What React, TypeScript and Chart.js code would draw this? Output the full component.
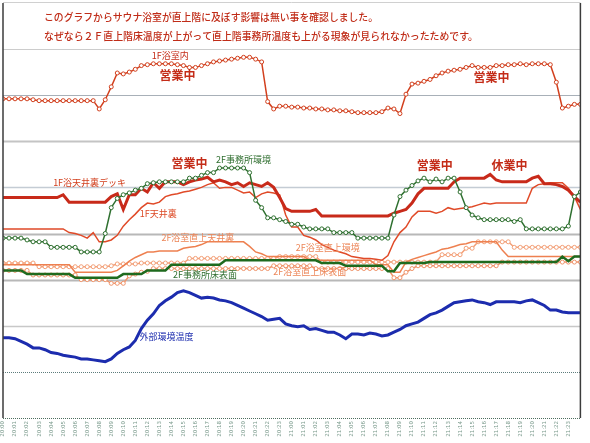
import React, { useEffect, useRef } from 'react';
import { Chart, registerables } from 'chart.js';

Chart.register(...registerables);

// Hourly tick labels (day:hour)
const tickLabels = [
  '20:00', '20:01', '20:02', '20:03', '20:04', '20:05', '20:06', '20:07', '20:08', '20:09', '20:10', '20:11',
  '20:12', '20:13', '20:14', '20:15', '20:16', '20:17', '20:18', '20:19', '20:20', '20:21', '20:22', '20:23',
  '21:00', '21:01', '21:02', '21:03', '21:04', '21:05', '21:06', '21:07', '21:08', '21:09', '21:10', '21:11',
  '21:12', '21:13', '21:14', '21:15', '21:16', '21:17', '21:18', '21:19', '21:20', '21:21', '21:22', '21:23',
];

// Half-hourly readings (°C-like units), 97 samples each
const bathRoom1F = [
  34.6, 34.6, 34.6, 34.6, 34.6, 34.5, 34.4, 34.4, 34.4, 34.4,
  34.4, 34.4, 34.4, 34.4, 34.4, 34.4, 33.5, 34.5, 35.9, 37.4,
  37.3, 37.5, 37.8, 38.2, 38.3, 38.4, 38.4, 38.4, 38.4, 38.3,
  38.2, 38.0, 38.0, 38.2, 38.4, 38.6, 38.7, 38.8, 38.9, 39.0,
  39.1, 39.1, 38.9, 38.6, 34.3, 33.5, 33.8, 33.8, 33.7, 33.7,
  33.6, 33.6, 33.5, 33.5, 33.4, 33.4, 33.3, 33.3, 33.2, 33.1,
  33.1, 33.1, 33.1, 33.2, 33.6, 33.5, 33.0, 35.1, 36.2, 36.3,
  36.5, 36.7, 37.1, 37.4, 37.6, 37.7, 37.8, 38.0, 38.2, 38.0,
  38.0, 38.0, 38.2, 38.2, 38.3, 38.3, 38.4, 38.3, 38.4, 38.4,
  38.4, 38.3, 36.4, 33.6, 33.8, 34.0, 34.0,
];

const bathDeck1F = [
  23.9, 23.9, 23.9, 23.9, 23.9, 23.9, 23.9, 23.9, 23.9, 23.9,
  24.2, 23.4, 23.4, 23.4, 23.4, 23.4, 23.4, 23.4, 24.0, 24.3,
  22.6, 24.2, 24.2, 24.9, 24.5, 25.5, 24.9, 25.6, 25.6, 25.6,
  25.3, 25.6, 25.8, 25.9, 26.1, 25.6, 25.8, 25.6, 25.3, 25.5,
  25.1, 25.5, 25.3, 25.1, 25.5, 25.0, 23.9, 22.7, 22.4, 22.4,
  22.4, 22.4, 22.6, 21.9, 21.9, 21.9, 21.9, 21.9, 21.9, 21.9,
  21.9, 21.9, 21.9, 21.9, 21.9, 22.2, 22.4, 22.6, 23.3, 24.3,
  24.9, 24.9, 24.9, 24.9, 24.9, 25.6, 26.0, 26.0, 26.0, 26.0,
  26.0, 26.4, 25.8, 25.6, 25.6, 25.6, 25.6, 25.6, 26.0, 26.2,
  25.4, 25.4, 25.3, 25.1, 24.7, 24.0, 23.4,
];

const officeEnv2F = [
  19.5, 19.5, 19.5, 19.5, 19.3, 19.1, 19.1, 19.1, 18.5, 18.5,
  18.5, 18.5, 18.5, 18.0, 18.0, 18.0, 18.0, 20.0, 22.8, 23.8,
  24.2, 24.4, 24.7, 24.9, 25.4, 25.5, 25.6, 25.6, 25.6, 25.6,
  25.6, 26.0, 26.0, 26.3, 26.6, 26.6, 27.1, 27.1, 27.1, 27.1,
  27.1, 26.6, 23.6, 22.8, 21.7, 21.7, 21.5, 21.3, 21.0, 21.0,
  20.7, 20.5, 20.5, 20.5, 20.5, 20.1, 20.1, 20.1, 20.1, 19.5,
  19.5, 19.5, 19.5, 19.5, 19.5, 22.0, 24.0, 24.7, 25.2, 25.7,
  26.0, 25.6, 25.9, 25.6, 26.0, 26.0, 24.5, 22.8, 22.0, 21.7,
  21.5, 21.5, 21.5, 21.5, 21.5, 21.3, 21.5, 20.5, 20.5, 20.5,
  20.5, 20.5, 20.5, 20.5, 20.8, 24.0, 24.5,
];

const ceiling1F = [
  20.5, 20.5, 20.5, 20.5, 20.5, 20.5, 20.5, 20.5, 20.5, 20.5,
  20.5, 20.1, 20.0, 19.8, 19.5, 20.1, 19.1, 19.1, 19.3, 19.8,
  20.8, 21.5, 22.1, 22.8, 23.3, 23.2, 23.4, 24.0, 24.2, 24.3,
  24.5, 24.6, 24.8, 25.0, 25.3, 25.5, 24.9, 25.0, 25.0, 24.7,
  24.4, 24.5, 23.9, 24.3, 24.5, 24.4, 24.2, 22.0, 20.7, 20.7,
  19.8, 19.6, 19.3, 18.8, 18.5, 18.2, 18.0, 17.8, 17.5, 17.4,
  17.3, 17.3, 17.2, 17.1, 17.6, 19.1, 20.1, 20.7, 21.8, 22.4,
  22.4, 22.4, 22.2, 22.4, 22.8, 22.6, 22.7, 22.8, 22.9, 23.1,
  23.3, 23.2, 23.3, 23.3, 23.3, 23.3, 23.3, 23.3, 24.9, 25.3,
  25.4, 25.5, 25.5, 25.5, 24.9, 24.0, 22.6,
];

const bathAboveCeiling2F = [
  16.6, 16.6, 16.6, 16.6, 16.6, 16.6, 16.6, 16.6, 16.6, 16.6,
  16.6, 16.6, 15.8, 15.8, 15.8, 15.8, 15.8, 15.8, 15.8, 16.0,
  16.5, 17.0, 17.4, 17.7, 18.0, 18.0, 18.1, 18.1, 18.1, 18.1,
  18.4, 18.5, 18.6, 18.8, 19.1, 19.1, 19.1, 19.1, 19.1, 19.1,
  19.1, 18.6, 18.0, 17.8, 17.5, 17.5, 17.5, 17.5, 17.5, 17.5,
  17.5, 17.1, 17.1, 17.1, 17.1, 17.1, 17.1, 17.1, 17.1, 17.1,
  17.1, 17.1, 16.6, 16.6, 16.6, 15.8, 15.8, 16.9, 17.2, 17.4,
  17.6, 17.8, 18.0, 18.3, 18.4, 18.6, 18.8, 18.9, 19.1, 19.1,
  19.1, 19.1, 19.1, 18.2, 17.5, 17.5, 17.5, 17.5, 17.5, 17.5,
  17.5, 17.5, 17.5, 17.5, 17.5, 17.5, 17.5,
];

const bathAboveEnv2F = [
  16.8, 16.8, 16.8, 16.8, 16.8, 16.8, 16.4, 16.4, 16.4, 16.4,
  16.4, 16.4, 16.4, 16.4, 16.4, 16.4, 16.4, 16.4, 16.5, 16.7,
  16.7, 16.7, 16.7, 16.8, 16.8, 16.8, 16.8, 16.8, 16.8, 16.8,
  16.8, 17.3, 17.3, 17.3, 17.3, 17.3, 17.3, 17.3, 17.3, 17.3,
  17.3, 17.3, 17.3, 17.3, 17.3, 17.3, 17.5, 17.5, 17.5, 17.5,
  17.5, 17.5, 17.5, 16.9, 16.9, 16.9, 16.9, 16.9, 16.9, 16.9,
  16.9, 16.9, 16.9, 16.9, 16.9, 16.9, 16.9, 16.9, 16.9, 16.9,
  16.9, 16.9, 16.9, 17.7, 17.7, 17.7, 17.7, 18.4, 18.4, 19.1,
  19.1, 19.1, 19.1, 19.1, 19.1, 18.5, 18.5, 18.5, 18.5, 18.5,
  18.5, 18.5, 18.5, 18.5, 18.5, 18.5, 18.5,
];

const bathAboveFloor2F = [
  16.0, 16.0, 16.0, 16.0, 16.0, 15.5, 15.5, 15.5, 15.5, 15.5,
  15.5, 15.5, 15.5, 15.0, 15.0, 15.0, 15.0, 15.0, 14.6, 14.6,
  14.6, 15.4, 15.6, 15.8, 15.9, 16.2, 16.2, 16.2, 16.2, 16.2,
  16.2, 16.2, 16.2, 16.2, 16.2, 16.2, 16.2, 16.2, 16.2, 16.2,
  16.2, 16.2, 16.2, 16.2, 16.2, 16.5, 16.5, 16.5, 16.5, 16.5,
  16.5, 16.5, 16.2, 16.2, 16.2, 16.2, 16.2, 16.2, 16.2, 16.2,
  16.2, 16.2, 16.2, 16.2, 16.2, 15.2, 15.2, 15.8, 16.2, 16.5,
  16.5, 16.5, 16.5, 16.5, 16.5, 16.5, 16.5, 16.5, 16.5, 16.5,
  16.5, 16.5, 16.5, 16.9, 16.9, 16.9, 16.9, 16.9, 16.9, 16.9,
  16.9, 16.9, 16.9, 16.9, 16.9, 16.9, 16.9,
];

const officeFloor2F = [
  16.0, 16.0, 16.0, 16.0, 15.6, 15.6, 15.6, 15.6, 15.6, 15.6,
  15.6, 15.6, 15.2, 15.2, 15.2, 15.2, 15.2, 15.2, 15.2, 15.2,
  15.6, 15.6, 15.6, 15.6, 16.0, 16.0, 16.0, 16.0, 16.6, 16.6,
  16.6, 16.6, 16.6, 16.6, 16.6, 16.6, 16.6, 17.1, 17.1, 17.1,
  17.1, 17.1, 17.1, 17.1, 17.1, 17.1, 17.1, 17.1, 17.1, 17.1,
  17.1, 17.1, 17.1, 16.8, 16.8, 16.8, 16.8, 16.5, 16.5, 16.5,
  16.5, 16.5, 16.5, 16.5, 15.9, 15.9, 16.8, 16.8, 16.8, 16.8,
  16.8, 16.9, 16.9, 16.9, 16.9, 16.9, 16.9, 16.9, 16.9, 16.9,
  16.9, 16.9, 16.9, 16.9, 16.9, 16.9, 16.9, 16.9, 16.9, 16.9,
  16.9, 16.9, 16.9, 17.5, 17.0, 17.5, 17.5,
];

const outdoor = [
  8.7, 8.7, 8.6, 8.3, 8.0, 7.6, 7.6, 7.4, 7.1, 7.0,
  6.8, 6.7, 6.6, 6.4, 6.4, 6.3, 6.2, 6.1, 6.4, 7.0,
  7.4, 7.7, 8.4, 9.7, 10.6, 11.3, 12.2, 12.7, 13.1, 13.6,
  13.8, 13.6, 13.3, 13.0, 13.1, 13.0, 12.8, 12.7, 12.5, 12.2,
  11.9, 11.6, 11.3, 11.0, 10.6, 10.7, 10.8, 10.2, 10.0, 9.9,
  10.0, 9.6, 9.7, 9.5, 9.3, 9.3, 9.0, 8.6, 9.1, 9.1,
  9.0, 9.2, 9.1, 8.9, 9.0, 9.3, 9.6, 10.0, 10.2, 10.4,
  10.8, 11.2, 11.4, 11.7, 12.1, 12.5, 12.6, 12.7, 12.8, 12.6,
  12.5, 12.3, 12.6, 12.6, 12.6, 12.6, 12.5, 12.7, 12.8, 12.5,
  12.2, 11.7, 11.7, 11.5, 11.4, 11.4, 11.4,
];

const titleLines = [
  'このグラフからサウナ浴室が直上階に及ぼす影響は無い事を確認しました。',
  'なぜなら２Ｆ直上階床温度が上がって直上階事務所温度も上がる現象が見られなかったためです。',
];

const RED = '#c42c18';
const GREEN = '#2f6e2f';
const ORANGE = '#ec8658';
const BLUE = '#1c2cae';

// Annotation labels: [text, hour, value, colour, kind]
const annotations: [string, number, number, string, string][] = [
  ['1F浴室内', 13.9, 39.3, RED, 'label'],
  ['営業中', 14.5, 37.1, RED, 'big'],
  ['営業中', 40.6, 36.9, RED, 'big'],
  ['営業中', 15.5, 27.6, RED, 'big'],
  ['2F事務所環境', 20.0, 28.0, GREEN, 'label'],
  ['1F浴天井裏デッキ', 7.2, 25.5, '#d2401e', 'label'],
  ['1F天井裏', 12.9, 22.2, '#dc4a26', 'label'],
  ['2F浴室直上天井裏', 16.2, 19.6, ORANGE, 'label'],
  ['2F浴室直上環境', 27.0, 18.5, ORANGE, 'label'],
  ['2F浴室直上床表面', 25.5, 15.9, ORANGE, 'label'],
  ['2F事務所床表面', 16.8, 15.5, GREEN, 'label'],
  ['営業中', 35.9, 27.4, RED, 'big'],
  ['休業中', 42.1, 27.4, RED, 'big'],
  ['外部環境温度', 13.6, 8.8, BLUE, 'label'],
];

const gridValues = [0, 5, 10, 15, 20, 25, 30, 35, 40];
const gridStyles: Record<number, { color: string; width: number; dash: number[] }> = {
  0: { color: '#4d6e5e', width: 1, dash: [1, 1] },
  5: { color: '#5d7c7c', width: 1, dash: [1, 1] },
  10: { color: '#c8c8c8', width: 1.5, dash: [] },
  15: { color: '#b8b8b8', width: 2, dash: [] },
  20: { color: '#b8b8b8', width: 2, dash: [] },
  25: { color: '#c4ccd4', width: 1.5, dash: [] },
  30: { color: '#c4c4c4', width: 2, dash: [] },
  35: { color: '#a8b0b8', width: 1.2, dash: [] },
  40: { color: '#cccccc', width: 1, dash: [] },
};

const toPoints = (vals: number[]) => vals.map((v, i) => ({ x: i / 2, y: v }));

const JP = '"Noto Sans CJK JP", "Noto Sans", sans-serif';

const decorPlugin = {
  id: 'decor',
  beforeDraw(chart: any) {
    const { ctx, width, height } = chart;
    ctx.save();
    ctx.fillStyle = '#ffffff';
    ctx.fillRect(0, 0, width, height);
    ctx.restore();
  },
  beforeDatasetsDraw(chart: any) {
    const { ctx, chartArea, scales } = chart;
    ctx.save();
    for (const v of gridValues) {
      const s = gridStyles[v];
      const y = Math.round(scales.y.getPixelForValue(v)) + 0.5;
      ctx.beginPath();
      ctx.strokeStyle = s.color;
      ctx.lineWidth = s.width;
      ctx.setLineDash(s.dash);
      ctx.moveTo(chartArea.left, y);
      ctx.lineTo(chartArea.right, y);
      ctx.stroke();
    }
    ctx.restore();
  },
  afterDatasetsDraw(chart: any) {
    const { ctx, chartArea, scales } = chart;
    ctx.save();
    // frame
    ctx.strokeStyle = '#3c3c3c';
    ctx.lineWidth = 1.5;
    ctx.beginPath();
    ctx.moveTo(chartArea.left, 3);
    ctx.lineTo(chartArea.left, chartArea.bottom);
    ctx.moveTo(chartArea.right, 3);
    ctx.lineTo(chartArea.right, chartArea.bottom);
    ctx.stroke();
    ctx.strokeStyle = '#d0d0d0';
    ctx.lineWidth = 1;
    ctx.beginPath();
    ctx.moveTo(chartArea.left, 2.5);
    ctx.lineTo(chartArea.right, 2.5);
    ctx.stroke();

    // title
    ctx.fillStyle = '#c02c18';
    ctx.font = `500 10px ${JP}`;
    ctx.textBaseline = 'middle';
    ctx.textAlign = 'left';
    ctx.fillText(titleLines[0], 44, 17, 334);
    ctx.fillText(titleLines[1], 44, 36, 434);

    // annotations
    ctx.textAlign = 'center';
    for (const [text, h, v, color, kind] of annotations) {
      const x = scales.x.getPixelForValue(h);
      const y = scales.y.getPixelForValue(v);
      ctx.fillStyle = color;
      ctx.font = kind === 'big' ? `bold 12px ${JP}` : `9px ${JP}`;
      ctx.fillText(text, x, y);
    }
    ctx.restore();
  },
};

export default function App() {
  const ref = useRef<HTMLCanvasElement | null>(null);
  useEffect(() => {
    if (!ref.current) return;
    const marker = (color: string) => ({
      pointRadius: 2,
      pointBackgroundColor: '#ffffff',
      pointBorderColor: color,
      pointBorderWidth: 1,
      pointHoverRadius: 0,
    });
    const line = (label: string, vals: number[], color: string, width: number, markers: boolean) => ({
      label,
      data: toPoints(vals),
      borderColor: color,
      borderWidth: width,
      tension: 0,
      fill: false,
      ...(markers ? marker(color) : { pointRadius: 0, pointHoverRadius: 0 }),
    });
    const chart = new Chart(ref.current, {
      type: 'line',
      data: {
        datasets: [
          line('1F浴室内', bathRoom1F, '#d2401e', 1.5, true),
          line('2F事務所環境', officeEnv2F, '#2f7030', 1.5, true),
          line('1F浴天井裏デッキ', bathDeck1F, '#c82a1a', 3, false),
          line('1F天井裏', ceiling1F, '#e04a28', 1.5, false),
          line('2F事務所床表面', officeFloor2F, '#1e6a1e', 2.5, false),
          line('2F浴室直上天井裏', bathAboveCeiling2F, '#ee8050', 1.5, false),
          line('2F浴室直上環境', bathAboveEnv2F, '#f3a078', 1.5, true),
          line('2F浴室直上床表面', bathAboveFloor2F, '#f0946a', 1.5, true),
          line('外部環境温度', outdoor, '#1c2cae', 3, false),
        ],
      },
      options: {
        animation: false,
        responsive: false,
        events: [],
        layout: { padding: { top: 49, left: 3, right: 3, bottom: 0 } },
        plugins: {
          legend: { display: false },
          tooltip: { enabled: false },
          title: { display: false },
        },
        scales: {
          x: {
            type: 'linear',
            min: 0,
            max: 48,
            afterFit: (s: any) => {
              s.height = 25;
            },
            grid: { display: false, drawTicks: false },
            border: { display: false },
            ticks: {
              stepSize: 1,
              autoSkip: false,
              maxRotation: 90,
              minRotation: 90,
              padding: 3,
              color: '#7a9a8c',
              font: { size: 5.5, family: 'DejaVu Sans' },
              callback: (v: any) => (tickLabels[v as number] ?? ''),
            },
          },
          y: {
            type: 'linear',
            min: 0,
            max: 40,
            display: false,
          },
        },
      },
      plugins: [decorPlugin],
    });
    return () => chart.destroy();
  }, []);
  return (
    <div style={{ position: 'fixed', left: 0, top: 0, width: 590, height: 443, background: '#fff' }}>
      <canvas ref={ref} width={590} height={443} style={{ display: 'block' }} />
    </div>
  );
}
